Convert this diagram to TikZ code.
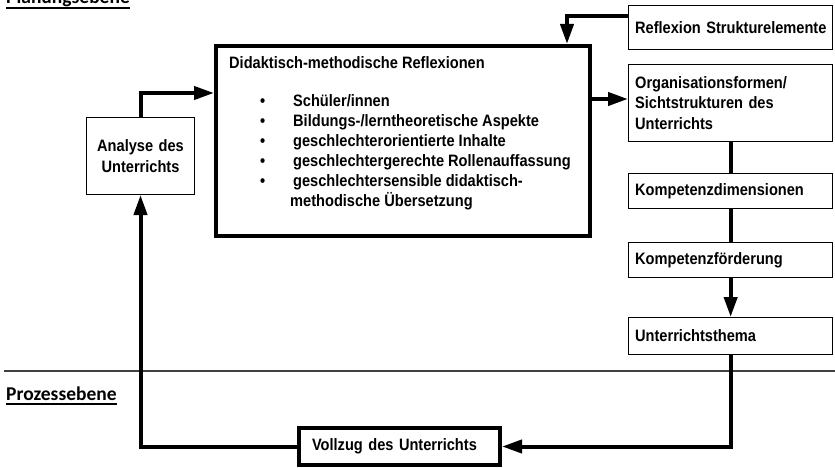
\documentclass[tikz,border=0pt]{standalone}
\usepackage{fontspec}
\setmainfont{Liberation Sans}[FakeStretch=0.885]
\newfontfamily\ebenefont{Carlito}
\usepackage{tikz}
\usetikzlibrary{arrows.meta,positioning}

\newcommand{\unterstr}[1]{\setbox0\hbox{#1}\rlap{\rule[-4.6pt]{\wd0}{1.6pt}}\box0}

\tikzset{
    kasten/.style={draw, line width=1.3pt, text width=191pt, align=left, inner xsep=6.5pt, inner ysep=0pt, font=\fontsize{16.5}{20.5}\selectfont\bfseries},
    verbindung/.style={line width=4pt},
    pfeil/.style={verbindung, -{Triangle[length=20pt,width=13pt]}},
    ebene/.style={anchor=base west, inner sep=0pt, font=\fontsize{19.5}{22}\selectfont\ebenefont\bfseries},
}

\begin{document}
\begin{tikzpicture}[
    x=1pt, y=-1pt,
    every node/.style={anchor=north west},
]
\useasboundingbox (0,0) rectangle (835,468);
\node [ebene] (planung) at (6,4) {\unterstr{Planungsebene}};
\node [ebene] (prozess) at (6,400) {\unterstr{Prozessebene}};
\draw [line width=1.3pt, black!75] (4,371) -- (835,371);
\node [kasten, minimum height=43.7pt] (struktur) at (628,5) {\mbox{Reflexion Strukturelemente}};
\node [kasten, minimum height=76.7pt] (orga) at (628,64) {Organisationsformen/\\Sichtstrukturen des\\Unterrichts};
\node [kasten, minimum height=34.7pt] (dimension) at (628,173) {Kompetenzdimensionen};
\node [kasten, minimum height=34.7pt] (foerderung) at (628,242) {Kompetenzförderung};
\node [kasten, minimum height=36.7pt] (thema) at (628,317) {Unterrichtsthema};
\node [kasten, text width=94.7pt, align=center, minimum height=76.7pt] (analyse) at (86,117) {Analyse des\\Unterrichts};
\node [kasten, line width=4pt, text width=175pt, inner xsep=13pt, minimum height=37pt] (vollzug) at (297,426) {Vollzug des Unterrichts};
\node [draw, line width=4pt, minimum width=374pt, minimum height=190pt] (didaktik) at (214,44) {};
\node [align=left, inner sep=0pt, font=\fontsize{16.5}{20}\selectfont\bfseries] (inhalt) at (229,56) {Didaktisch-methodische Reflexionen\\[18pt]
\hspace*{31pt}\makebox[33pt][l]{\textbullet}Schüler/innen\\
\hspace*{31pt}\makebox[33pt][l]{\textbullet}Bildungs-/lerntheoretische Aspekte\\
\hspace*{31pt}\makebox[33pt][l]{\textbullet}geschlechterorientierte Inhalte\\
\hspace*{31pt}\makebox[33pt][l]{\textbullet}geschlechtergerechte Rollenauffassung\\
\hspace*{31pt}\makebox[33pt][l]{\textbullet}geschlechtersensible didaktisch-\\
\hspace*{61pt}methodische Übersetzung};
\draw [pfeil] ([yshift=11.5pt]struktur.west) -| ([xshift=-25pt]didaktik.north east);
\draw [pfeil] (analyse.north) |- ([yshift=48pt]didaktik.west);
\draw [pfeil] ([yshift=42pt]didaktik.east) -- ([yshift=42pt]didaktik.east -| orga.west);
\draw [verbindung] (orga) -- (dimension);
\draw [verbindung] (dimension) -- (foerderung);
\draw [pfeil] (foerderung) -- (thema);
\draw [pfeil] (thema.south) |- (vollzug.east);
\draw [pfeil] (vollzug.west) -| (analyse.south);
\end{tikzpicture}
\end{document}
